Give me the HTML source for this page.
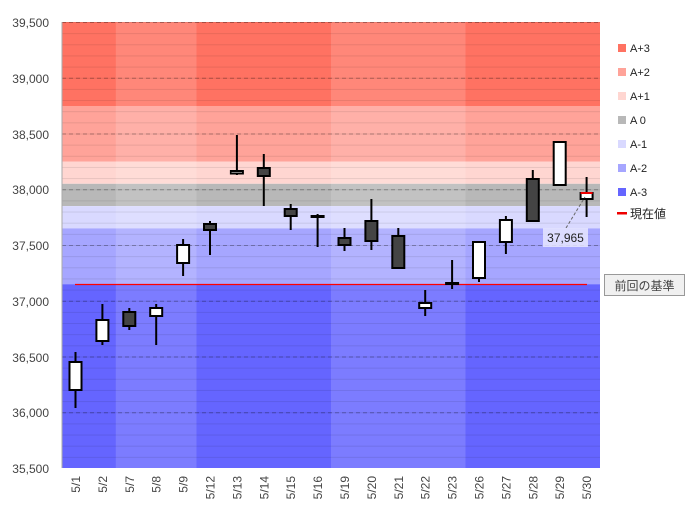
<!DOCTYPE html>
<html><head><meta charset="utf-8"><style>
html,body{margin:0;padding:0;background:#fff;}
svg{display:block;font-family:"Liberation Sans","Noto Sans CJK JP",sans-serif;}
</style></head><body>
<svg width="693" height="516" viewBox="0 0 693 516" xmlns="http://www.w3.org/2000/svg">
<defs>
<pattern id="g" patternUnits="userSpaceOnUse" x="0" y="22" width="700" height="11.15">
<line x1="0" y1="0.5" x2="700" y2="0.5" stroke="rgba(0,0,0,0.09)" stroke-width="1"/>
</pattern>
</defs>
<!-- bands -->
<rect x="62" y="22" width="538" height="84" fill="#ff7262"/>
<rect x="62" y="106" width="538" height="55.5" fill="#ffa399"/>
<rect x="62" y="161.5" width="538" height="22.3" fill="#ffd6d1"/>
<rect x="62" y="183.8" width="538" height="22.3" fill="#b8b8b8"/>
<rect x="62" y="206.1" width="538" height="22.3" fill="#d9d9ff"/>
<rect x="62" y="228.4" width="538" height="55.8" fill="#a6a6ff"/>
<rect x="62" y="284.2" width="538" height="183.8" fill="#6565ff"/>
<!-- lighter weeks -->
<rect x="115.8" y="22" width="80.7" height="446" fill="rgba(255,255,255,0.15)"/>
<rect x="331" y="22" width="134.5" height="446" fill="rgba(255,255,255,0.15)"/>
<!-- grid -->
<rect x="62" y="22" width="538" height="446" fill="url(#g)"/>
<g stroke="rgba(0,0,0,0.28)" stroke-dasharray="4,3" stroke-width="1">
<line x1="62" y1="22.5" x2="600" y2="22.5"/>
<line x1="62" y1="78.25" x2="600" y2="78.25"/>
<line x1="62" y1="134" x2="600" y2="134"/>
<line x1="62" y1="189.75" x2="600" y2="189.75"/>
<line x1="62" y1="245.5" x2="600" y2="245.5"/>
<line x1="62" y1="301.25" x2="600" y2="301.25"/>
<line x1="62" y1="357" x2="600" y2="357"/>
<line x1="62" y1="412.75" x2="600" y2="412.75"/>
</g>
<line x1="62" y1="22" x2="62" y2="468" stroke="#aaa"/>
<!-- y labels -->
<g font-size="12" fill="#444" text-anchor="end">
<text x="49" y="27">39,500</text>
<text x="49" y="83">39,000</text>
<text x="49" y="139">38,500</text>
<text x="49" y="194">38,000</text>
<text x="49" y="250">37,500</text>
<text x="49" y="306">37,000</text>
<text x="49" y="362">36,500</text>
<text x="49" y="417">36,000</text>
<text x="49" y="473">35,500</text>
</g>
<!-- red baseline -->
<line x1="75" y1="284.5" x2="587" y2="284.5" stroke="#ff0000" stroke-width="1.3"/>
<!-- candles -->
<g stroke="#000" stroke-width="2">
<line x1="75.5" y1="352" x2="75.5" y2="408"/><rect x="69.5" y="362" width="12" height="28" fill="#fff"/>
<line x1="102.4" y1="304" x2="102.4" y2="345"/><rect x="96.4" y="320" width="12" height="21" fill="#fff"/>
<line x1="129.3" y1="308" x2="129.3" y2="330"/><rect x="123.3" y="312" width="12" height="14" fill="#444"/>
<line x1="156.2" y1="304" x2="156.2" y2="345"/><rect x="150.2" y="308" width="12" height="8" fill="#fff"/>
<line x1="183.1" y1="239" x2="183.1" y2="276"/><rect x="177.1" y="245" width="12" height="18" fill="#fff"/>
<line x1="210" y1="221" x2="210" y2="255"/><rect x="204" y="224" width="12" height="6" fill="#444"/>
<line x1="236.9" y1="135" x2="236.9" y2="175"/><rect x="230.9" y="171" width="12" height="2.5" fill="#fff"/>
<line x1="263.8" y1="154" x2="263.8" y2="206"/><rect x="257.8" y="168" width="12" height="8" fill="#444"/>
<line x1="290.7" y1="204" x2="290.7" y2="230"/><rect x="284.7" y="209" width="12" height="7" fill="#444"/>
<line x1="317.6" y1="214" x2="317.6" y2="247"/><rect x="311.6" y="216" width="12" height="1" fill="#444"/>
<line x1="344.5" y1="228" x2="344.5" y2="251"/><rect x="338.5" y="238" width="12" height="7" fill="#444"/>
<line x1="371.4" y1="199" x2="371.4" y2="250"/><rect x="365.4" y="221" width="12" height="20" fill="#444"/>
<line x1="398.3" y1="228" x2="398.3" y2="268"/><rect x="392.3" y="236" width="12" height="32" fill="#444"/>
<line x1="425.2" y1="290" x2="425.2" y2="316"/><rect x="419.2" y="303" width="12" height="5" fill="#fff"/>
<line x1="452.1" y1="260" x2="452.1" y2="289"/><rect x="446.1" y="283" width="12" height="1" fill="#444"/>
<line x1="479" y1="242" x2="479" y2="282"/><rect x="473" y="242" width="12" height="36" fill="#fff"/>
<line x1="505.9" y1="216" x2="505.9" y2="254"/><rect x="499.9" y="220" width="12" height="22" fill="#fff"/>
<line x1="532.8" y1="170" x2="532.8" y2="221"/><rect x="526.8" y="179" width="12" height="42" fill="#444"/>
<line x1="559.7" y1="141" x2="559.7" y2="185"/><rect x="553.7" y="142" width="12" height="43" fill="#fff"/>
<line x1="586.6" y1="177" x2="586.6" y2="217"/><rect x="580.6" y="193" width="12" height="6" fill="#fff"/>
</g>
<line x1="580.6" y1="193" x2="592.6" y2="193" stroke="#e00" stroke-width="2"/>
<!-- annotation -->
<line x1="566" y1="228" x2="585" y2="197" stroke="#666" stroke-dasharray="3,2"/>
<rect x="543" y="228" width="45" height="19" fill="rgba(230,230,255,0.85)"/>
<text x="565.5" y="242" font-size="12" fill="#222" text-anchor="middle">37,965</text>
<!-- 前回の基準 -->
<rect x="604.5" y="274.5" width="80" height="21" fill="#f0f0f0" stroke="#999"/>
<text x="644.5" y="290" font-size="12" fill="#444" text-anchor="middle">前回の基準</text>
<!-- legend -->
<g font-size="11" fill="#222">
<rect x="618" y="44" width="8" height="8" fill="#ff7262"/><text x="630" y="52">A+3</text>
<rect x="618" y="68" width="8" height="8" fill="#ffa399"/><text x="630" y="76">A+2</text>
<rect x="618" y="92" width="8" height="8" fill="#ffd6d1"/><text x="630" y="100">A+1</text>
<rect x="618" y="116" width="8" height="8" fill="#b8b8b8"/><text x="630" y="124">A 0</text>
<rect x="618" y="140" width="8" height="8" fill="#d9d9ff"/><text x="630" y="148">A-1</text>
<rect x="618" y="164" width="8" height="8" fill="#a6a6ff"/><text x="630" y="172">A-2</text>
<rect x="618" y="188" width="8" height="8" fill="#6565ff"/><text x="630" y="196">A-3</text>
<rect x="617" y="212" width="10" height="2.5" fill="#e00"/><text x="630" y="218" font-size="12">現在値</text>
</g>
<!-- x labels -->
<g font-size="12" fill="#444" text-anchor="end">
<text transform="translate(80,476) rotate(-90)">5/1</text>
<text transform="translate(106.9,476) rotate(-90)">5/2</text>
<text transform="translate(133.8,476) rotate(-90)">5/7</text>
<text transform="translate(160.7,476) rotate(-90)">5/8</text>
<text transform="translate(187.6,476) rotate(-90)">5/9</text>
<text transform="translate(214.5,476) rotate(-90)">5/12</text>
<text transform="translate(241.4,476) rotate(-90)">5/13</text>
<text transform="translate(268.3,476) rotate(-90)">5/14</text>
<text transform="translate(295.2,476) rotate(-90)">5/15</text>
<text transform="translate(322.1,476) rotate(-90)">5/16</text>
<text transform="translate(349,476) rotate(-90)">5/19</text>
<text transform="translate(375.9,476) rotate(-90)">5/20</text>
<text transform="translate(402.8,476) rotate(-90)">5/21</text>
<text transform="translate(429.7,476) rotate(-90)">5/22</text>
<text transform="translate(456.6,476) rotate(-90)">5/23</text>
<text transform="translate(483.5,476) rotate(-90)">5/26</text>
<text transform="translate(510.4,476) rotate(-90)">5/27</text>
<text transform="translate(537.3,476) rotate(-90)">5/28</text>
<text transform="translate(564.2,476) rotate(-90)">5/29</text>
<text transform="translate(591.1,476) rotate(-90)">5/30</text>
</g>
</svg>
</body></html>
